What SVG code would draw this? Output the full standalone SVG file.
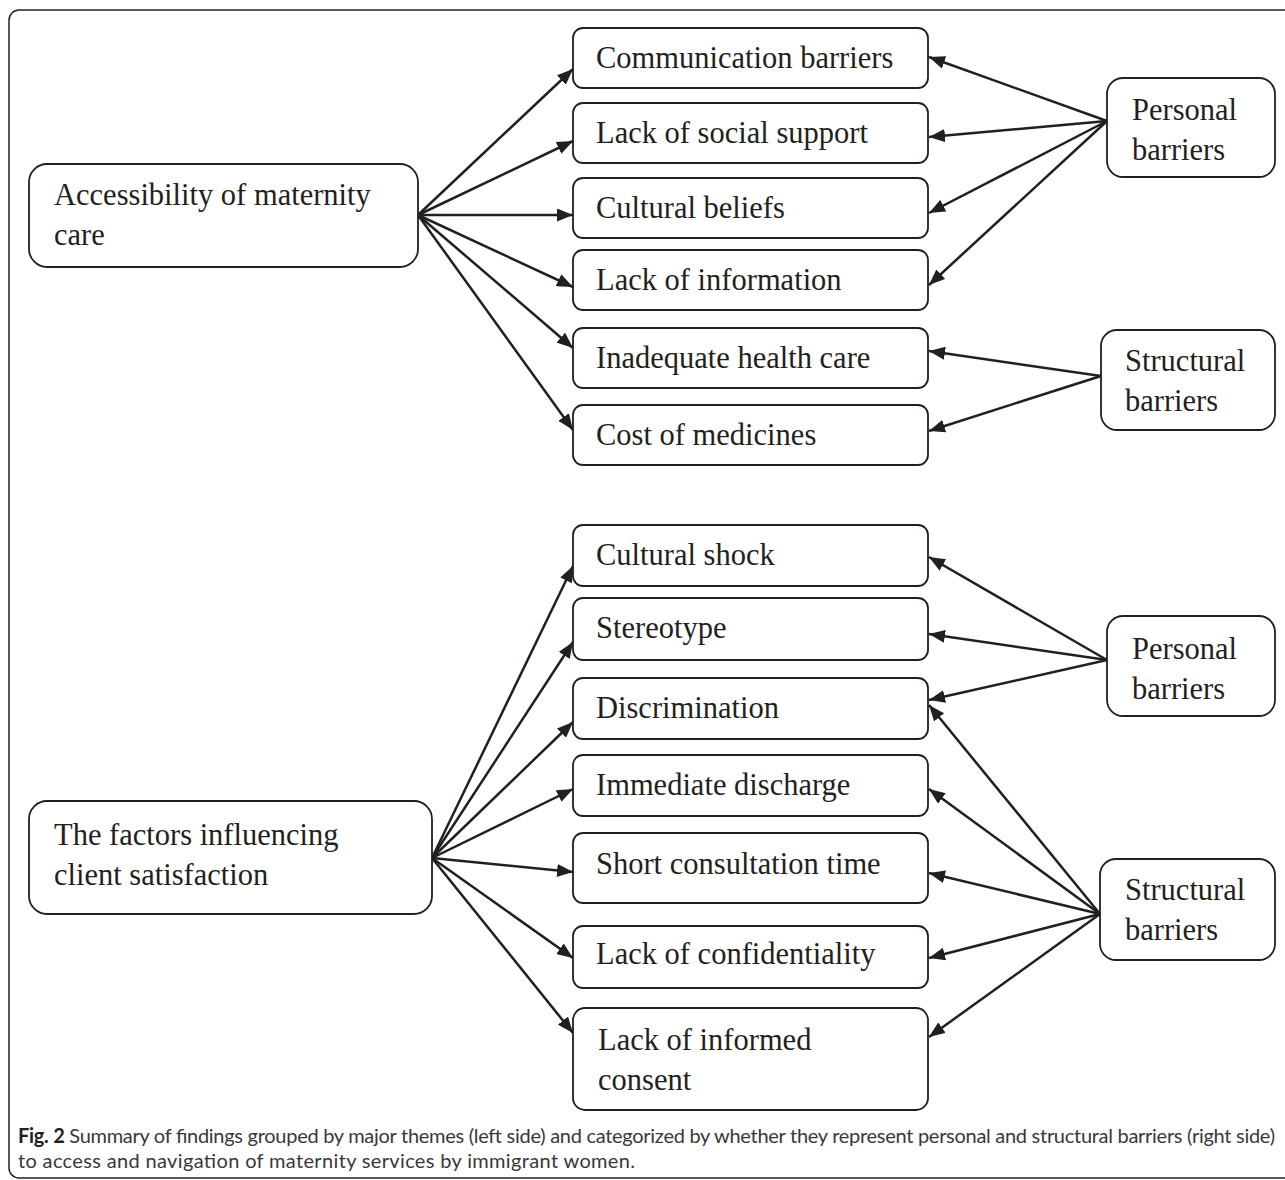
<svg xmlns="http://www.w3.org/2000/svg" width="1285" height="1180" viewBox="0 0 1285 1180">
<style>
.frame{fill:none;stroke:#231f20;stroke-width:1.5}
.box{fill:#fff;stroke:#231f20;stroke-width:1.8}
.t{font-family:"Liberation Serif","Times New Roman",serif;font-size:30.5px;fill:#231f20}
.cap{font-family:Lato,"Liberation Sans",sans-serif;font-size:20px;fill:#3a3738}
.capb{font-weight:bold;fill:#231f20}
.c line{stroke:#231f20;stroke-width:2.5;marker-end:url(#ah)}
</style>
<defs>
<marker id="ah" markerUnits="userSpaceOnUse" markerWidth="17" markerHeight="13" refX="16" refY="6.5" orient="auto">
<path d="M0,0 L16,6.5 L0,13 z" fill="#231f20"/>
</marker>
</defs>
<rect class="frame" x="9" y="10" width="1300" height="1168" rx="10"/>
<g class="c" id="connectors">
<line x1="418" y1="215" x2="573" y2="69"/>
<line x1="418" y1="215" x2="573" y2="141"/>
<line x1="418" y1="215" x2="573" y2="215"/>
<line x1="418" y1="215" x2="573" y2="287"/>
<line x1="418" y1="215" x2="573" y2="348"/>
<line x1="418" y1="215" x2="573" y2="430"/>
<line x1="1107" y1="121" x2="929" y2="57"/>
<line x1="1107" y1="121" x2="929" y2="137"/>
<line x1="1107" y1="121" x2="929" y2="213"/>
<line x1="1107" y1="121" x2="929" y2="285"/>
<line x1="1101" y1="376" x2="929" y2="351"/>
<line x1="1101" y1="376" x2="929" y2="431"/>
<line x1="432" y1="858" x2="573" y2="566"/>
<line x1="432" y1="858" x2="573" y2="642"/>
<line x1="432" y1="858" x2="573" y2="722"/>
<line x1="432" y1="858" x2="573" y2="789"/>
<line x1="432" y1="858" x2="573" y2="872"/>
<line x1="432" y1="858" x2="573" y2="958"/>
<line x1="432" y1="858" x2="573" y2="1033"/>
<line x1="1107" y1="660" x2="929" y2="557"/>
<line x1="1107" y1="660" x2="929" y2="634"/>
<line x1="1107" y1="660" x2="929" y2="700"/>
<line x1="1100" y1="914" x2="929" y2="705"/>
<line x1="1100" y1="914" x2="929" y2="789"/>
<line x1="1100" y1="914" x2="929" y2="873"/>
<line x1="1100" y1="914" x2="929" y2="958"/>
<line x1="1100" y1="914" x2="929" y2="1037"/>
</g>
<g id="access"><rect class="box" x="29" y="164" width="389" height="103" rx="18"/><text class="t" x="54" y="205">Accessibility of maternity</text><text class="t" x="54" y="245">care</text></g>
<g id="comm"><rect class="box" x="573" y="28" width="355" height="60" rx="10"/><text class="t" x="596" y="68">Communication barriers</text></g>
<g id="social"><rect class="box" x="573" y="103" width="355" height="60" rx="10"/><text class="t" x="596" y="143">Lack of social support</text></g>
<g id="beliefs"><rect class="box" x="573" y="178" width="355" height="60" rx="10"/><text class="t" x="596" y="218">Cultural beliefs</text></g>
<g id="info"><rect class="box" x="573" y="250" width="355" height="60" rx="10"/><text class="t" x="596" y="290">Lack of information</text></g>
<g id="inadequate"><rect class="box" x="573" y="328" width="355" height="60" rx="10"/><text class="t" x="596" y="368">Inadequate health care</text></g>
<g id="cost"><rect class="box" x="573" y="405" width="355" height="60" rx="10"/><text class="t" x="596" y="445">Cost of medicines</text></g>
<g id="personal1"><rect class="box" x="1107" y="78" width="168" height="99" rx="16"/><text class="t" x="1132" y="120">Personal</text><text class="t" x="1132" y="160">barriers</text></g>
<g id="structural1"><rect class="box" x="1101" y="330" width="174" height="100" rx="16"/><text class="t" x="1125" y="371">Structural</text><text class="t" x="1125" y="411">barriers</text></g>
<g id="factors"><rect class="box" x="29" y="801" width="403" height="113" rx="18"/><text class="t" x="54" y="845">The factors influencing</text><text class="t" x="54" y="885">client satisfaction</text></g>
<g id="shock"><rect class="box" x="573" y="525" width="355" height="61" rx="10"/><text class="t" x="596" y="565">Cultural shock</text></g>
<g id="stereotype"><rect class="box" x="573" y="598" width="355" height="62" rx="10"/><text class="t" x="596" y="638">Stereotype</text></g>
<g id="discrimination"><rect class="box" x="573" y="678" width="355" height="61" rx="10"/><text class="t" x="596" y="718">Discrimination</text></g>
<g id="discharge"><rect class="box" x="573" y="755" width="355" height="61" rx="10"/><text class="t" x="596" y="795">Immediate discharge</text></g>
<g id="consultation"><rect class="box" x="573" y="833" width="355" height="70" rx="10"/><text class="t" x="596" y="874">Short consultation time</text></g>
<g id="confidentiality"><rect class="box" x="573" y="926" width="355" height="62" rx="10"/><text class="t" x="596" y="964">Lack of confidentiality</text></g>
<g id="consent"><rect class="box" x="573" y="1008" width="355" height="102" rx="12"/><text class="t" x="598" y="1050">Lack of informed</text><text class="t" x="598" y="1090">consent</text></g>
<g id="personal2"><rect class="box" x="1107" y="616" width="168" height="100" rx="16"/><text class="t" x="1132" y="659">Personal</text><text class="t" x="1132" y="699">barriers</text></g>
<g id="structural2"><rect class="box" x="1100" y="859" width="175" height="101" rx="16"/><text class="t" x="1125" y="900">Structural</text><text class="t" x="1125" y="940">barriers</text></g>
<g id="caption">
<text class="cap" x="18" y="1143" textLength="1257" lengthAdjust="spacing"><tspan class="capb">Fig. 2</tspan> Summary of findings grouped by major themes (left side) and categorized by whether they represent personal and structural barriers (right side)</text>
<text class="cap" x="18" y="1168" textLength="617" lengthAdjust="spacing">to access and navigation of maternity services by immigrant women.</text>
</g>
</svg>
